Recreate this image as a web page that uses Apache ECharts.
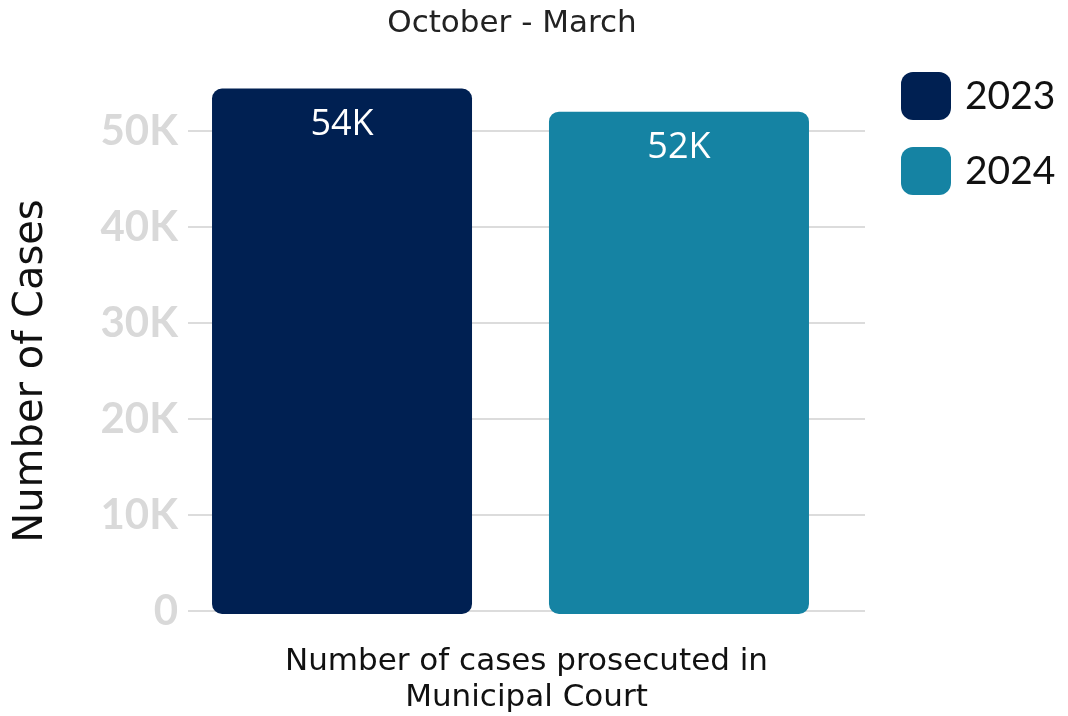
<!DOCTYPE html>
<html>
<head>
<meta charset="utf-8">
<script src="https://cdn.jsdelivr.net/npm/echarts@6/dist/echarts.min.js"></script>
<style>
  html, body { margin: 0; padding: 0; background: #fff; }
  #chart { width: 1068px; height: 716px; }
</style>
</head>
<body>
<div id="chart"></div>
<script>
// data
const categories = ['Number of cases prosecuted in\nMunicipal Court']
const years = ['2023', '2024']
const cases2023 = [54400]
const cases2024 = [52000]
const yTicks = [0, 10000, 20000, 30000, 40000, 50000]

const colors = ['#002052', '#1583a3']
const FONT = 'Lato'
const WIDE = 'DejaVu Sans'

const chart = echarts.init(document.getElementById('chart'))

const barLabel = {
  show: true,
  position: 'insideTop',
  distance: 18,
  color: '#fff',
  fontFamily: 'Open Sans',
  fontSize: 36,
  formatter: p => Math.round(p.value / 1000) + 'K'
}

chart.setOption({
  animation: false,
  title: {
    text: 'October - March',
    left: 507,
    top: 3,
    textAlign: 'center',
    textStyle: { fontFamily: WIDE, fontSize: 31, fontWeight: 'normal', color: '#222' }
  },
  legend: {
    orient: 'vertical',
    left: 896,
    top: 67,
    itemWidth: 50,
    itemHeight: 48,
    itemGap: 27,
    icon: 'roundRect',
    data: years,
    textStyle: { fontFamily: FONT, fontSize: 39, color: '#111', padding: [0, 0, 0, 9] }
  },
  // grid 0: gridlines, tick labels, axis names; grid 1: the bars (shifted a bit left, as in the reference)
  grid: [
    { left: 188, right: 203, top: 131, bottom: 102 },
    { left: 156, right: 203, top: 82.7, bottom: 102 }
  ],
  xAxis: [
    {
      gridIndex: 0,
      type: 'category',
      data: categories,
      axisLine: { show: false },
      axisTick: { show: false },
      axisLabel: { margin: 33, fontFamily: WIDE, fontSize: 31, lineHeight: 36, color: '#111' }
    },
    {
      gridIndex: 1,
      type: 'category',
      data: categories,
      show: false
    }
  ],
  yAxis: [
    {
      gridIndex: 0,
      type: 'value',
      min: yTicks[0],
      max: yTicks[yTicks.length - 1],
      interval: 10000,
      name: 'Number of Cases',
      nameLocation: 'middle',
      nameGap: 136,
      nameTextStyle: { fontFamily: WIDE, fontSize: 40, color: '#111' },
      axisLine: { show: false },
      axisTick: { show: false },
      axisLabel: {
        margin: 10,
        fontFamily: FONT,
        fontSize: 42,
        fontWeight: 'bold',
        color: '#d9d9d9',
        formatter: v => (v === 0 ? '0' : v / 1000 + 'K')
      },
      splitLine: { lineStyle: { color: '#dcdcdc', width: 2 } }
    },
    {
      gridIndex: 1,
      type: 'value',
      min: 0,
      max: 55000,
      show: false,
      splitLine: { show: false }
    }
  ],
  series: [
    {
      name: years[0],
      type: 'bar',
      xAxisIndex: 1,
      yAxisIndex: 1,
      barWidth: 260,
      barGap: '29.6%',
      itemStyle: { color: colors[0], borderRadius: 10 },
      label: barLabel,
      data: cases2023
    },
    {
      name: years[1],
      type: 'bar',
      xAxisIndex: 1,
      yAxisIndex: 1,
      barWidth: 260,
      barGap: '29.6%',
      itemStyle: { color: colors[1], borderRadius: 10 },
      label: barLabel,
      data: cases2024
    }
  ]
})

window.addEventListener('resize', () => chart.resize())
</script>
</body>
</html>
